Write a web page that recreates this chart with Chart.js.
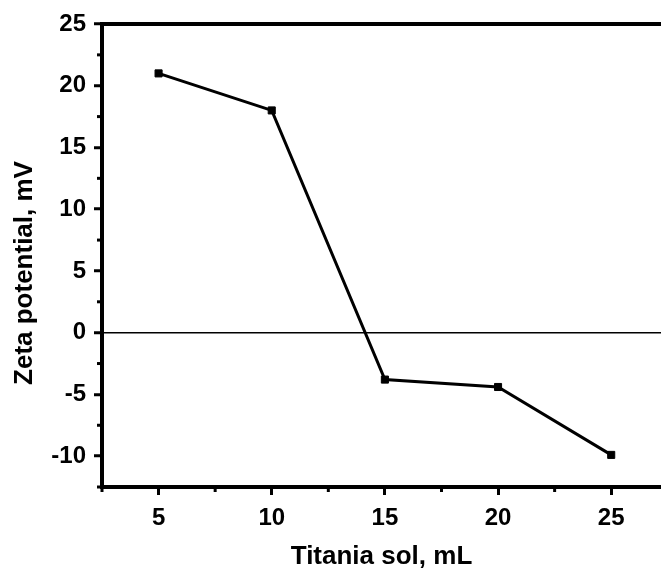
<!DOCTYPE html>
<html>
<head>
<meta charset="utf-8">
<script src="https://cdn.jsdelivr.net/npm/chart.js@4.4.1/dist/chart.umd.min.js"></script>
<style>
  html, body { margin: 0; padding: 0; background: #fff; overflow: hidden; }
  canvas { display: block; }
</style>
</head>
<body>
<canvas id="c" width="661" height="572"></canvas>
<script>
// Zeta potential against volume of titania sol added
const solVolume = [5, 10, 15, 20, 25];               // mL
const zetaPotential = [21, 18, -3.8, -4.4, -9.9];    // mV

const xMajorTicks = [5, 10, 15, 20, 25];
const xMinorTicks = [2.5, 7.5, 12.5, 17.5, 22.5];
const yMajorTicks = [-10, -5, 0, 5, 10, 15, 20, 25];
const yMinorTicks = [-12.5, -7.5, -2.5, 2.5, 7.5, 12.5, 17.5, 22.5];

const xTitle = 'Titania sol, mL';
const yTitle = 'Zeta potential, mV';

const FONT = '"Liberation Sans", Arial, Helvetica, sans-serif';
const tickFont = { family: FONT, size: 24, weight: 'bold' };
const titleFont = { family: FONT, size: 26, weight: 'bold' };

// Top frame line, short minor ticks and the rotated y-axis title
const framePlugin = {
  id: 'frame',
  afterDraw(chart) {
    const { ctx, chartArea: a, scales: { x, y } } = chart;
    ctx.save();
    ctx.strokeStyle = '#000';
    ctx.lineWidth = 4;
    ctx.beginPath();
    ctx.moveTo(a.left - 2, a.top);
    ctx.lineTo(a.right, a.top);
    ctx.stroke();

    ctx.lineWidth = 3;
    xMinorTicks.forEach(v => {
      const px = x.getPixelForValue(v);
      ctx.beginPath();
      ctx.moveTo(px, a.bottom);
      ctx.lineTo(px, a.bottom + 5);
      ctx.stroke();
    });
    yMinorTicks.forEach(v => {
      const py = y.getPixelForValue(v);
      ctx.beginPath();
      ctx.moveTo(a.left, py);
      ctx.lineTo(a.left - 5, py);
      ctx.stroke();
    });

    ctx.fillStyle = '#000';
    ctx.font = `bold ${titleFont.size}px ${FONT}`;
    ctx.textAlign = 'center';
    ctx.textBaseline = 'alphabetic';
    ctx.translate(32, 273);
    ctx.rotate(-Math.PI / 2);
    ctx.fillText(yTitle, 0, 0);
    ctx.restore();
  }
};

new Chart(document.getElementById('c'), {
  type: 'scatter',
  data: {
    datasets: [{
      data: solVolume.map((v, i) => ({ x: v, y: zetaPotential[i] })),
      showLine: true,
      borderColor: '#000',
      borderWidth: 3,
      pointStyle: 'rect',
      pointRadius: 5,
      pointBackgroundColor: '#000',
      pointBorderColor: '#000',
      pointBorderWidth: 1
    }]
  },
  options: {
    responsive: false,
    animation: false,
    layout: { autoPadding: false, padding: { top: 24, right: 0, bottom: 0, left: 0 } },
    plugins: { legend: { display: false }, tooltip: { enabled: false } },
    scales: {
      x: {
        type: 'linear',
        min: 2.5,
        max: 27.2,
        afterBuildTicks: s => { s.ticks = xMajorTicks.map(v => ({ value: v })); },
        afterFit: s => { s.height = 572 - 487; s.paddingLeft = 0; s.paddingRight = 0; },
        border: { display: true, color: '#000', width: 4 },
        grid: { drawOnChartArea: false, tickLength: 8, tickWidth: 3, tickColor: '#000' },
        ticks: { font: tickFont, color: '#000', padding: 9, maxRotation: 0 },
        title: { display: true, text: xTitle, font: titleFont, color: '#000', padding: { top: 4, bottom: 0 } }
      },
      y: {
        type: 'linear',
        min: -12.5,
        max: 25,
        afterBuildTicks: s => { s.ticks = yMajorTicks.map(v => ({ value: v })); },
        afterFit: s => { s.width = 102; },
        border: { display: true, color: '#000', width: 4 },
        grid: {
          color: c => (c.tick && c.tick.value === 0) ? '#000' : 'rgba(0,0,0,0)',
          lineWidth: 1.5,
          tickLength: 8,
          tickWidth: 3,
          tickColor: '#000'
        },
        ticks: { font: tickFont, color: '#000', padding: 8 }
      }
    }
  },
  plugins: [framePlugin]
});
</script>
</body>
</html>
